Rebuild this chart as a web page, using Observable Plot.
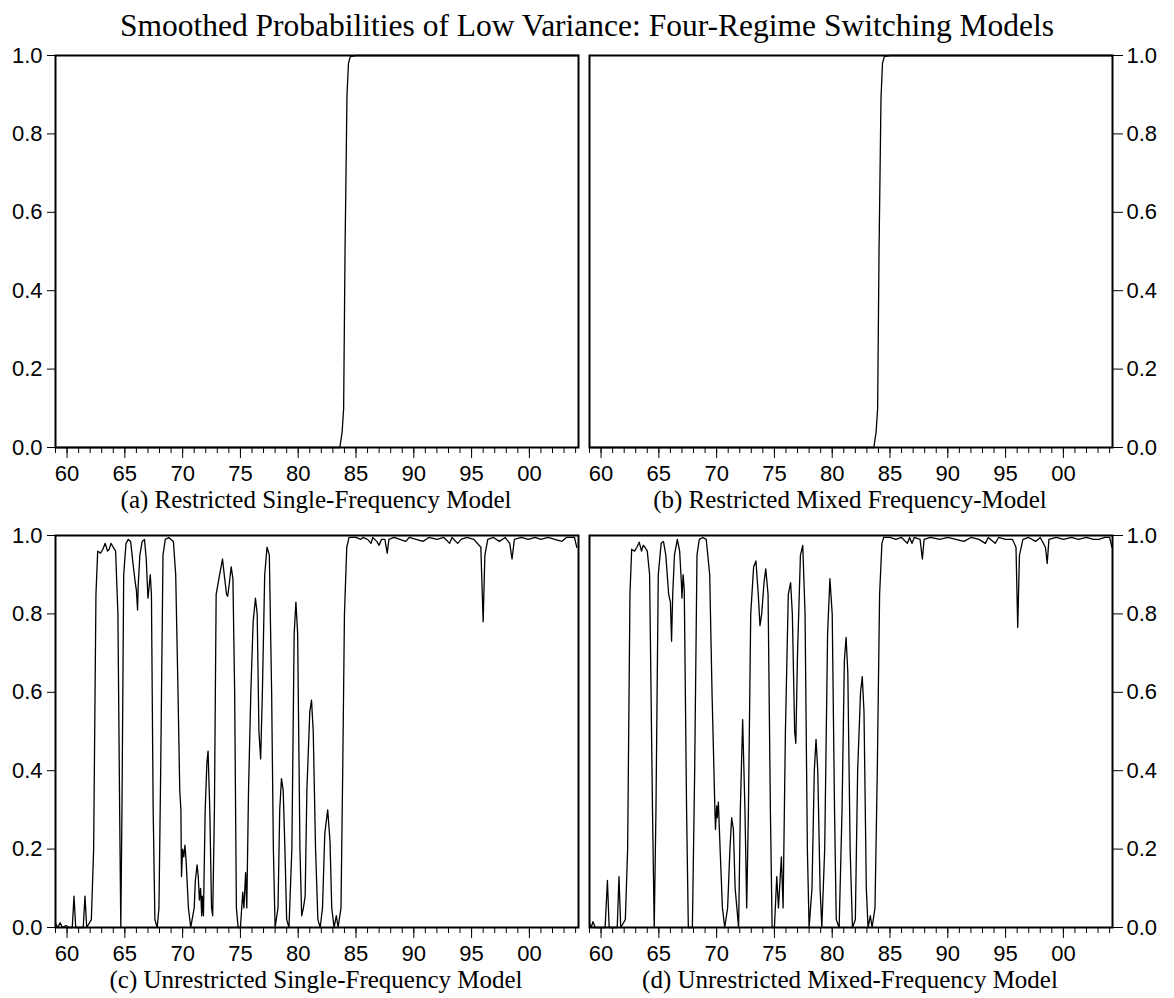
<!DOCTYPE html>
<html><head><meta charset="utf-8">
<script src="https://cdn.jsdelivr.net/npm/d3@7"></script>
<script src="https://cdn.jsdelivr.net/npm/@observablehq/plot@0.6"></script>
<style>
html,body{margin:0;padding:0;background:#fff}
body{width:1174px;height:998px;position:relative;overflow:hidden}
#title{position:absolute;left:0;top:10px;width:1174px;text-align:center;font-family:"Liberation Serif","Times New Roman",serif;font-size:31.5px;line-height:31px;color:#000;white-space:nowrap}
.panel{position:absolute}
.cap{position:absolute;width:600px;text-align:center;font-family:"Liberation Serif","Times New Roman",serif;font-size:25px;line-height:28px;color:#000;white-space:nowrap}
</style></head>
<body>
<div id="title">Smoothed Probabilities of Low Variance: Four-Regime Switching Models</div>
<div id="pa" class="panel" style="left:0;top:45px"></div>
<div id="pb" class="panel" style="left:587px;top:45px"></div>
<div id="pc" class="panel" style="left:0;top:525px"></div>
<div id="pd" class="panel" style="left:587px;top:525px"></div>
<div class="cap" style="left:16px;top:486px">(a) Restricted Single-Frequency Model</div>
<div class="cap" style="left:550px;top:486px">(b) Restricted Mixed Frequency-Model</div>
<div class="cap" style="left:16px;top:966px">(c) Unrestricted Single-Frequency Model</div>
<div class="cap" style="left:550px;top:966px">(d) Unrestricted Mixed-Frequency Model</div>
<script>
// x-axis tick years (labelled every 5 years) and y ticks
const labelYears = [1960, 1965, 1970, 1975, 1980, 1985, 1990, 1995, 2000];
const minorYears = d3.range(1959, 2005);
const yTicks = [0, 0.2, 0.4, 0.6, 0.8, 1.0];

// (a) Restricted single-frequency: [decimal year, probability]
const seriesA = [[1959.0,0],[1983.6,0],[1983.8,0.04],[1983.93,0.1],[1984.05,0.5],[1984.22,0.9],[1984.35,0.98],[1984.5,0.997],[1985.0,1.0],[2004.25,1.0]];
// (b) Restricted mixed-frequency
const seriesB = [[1959.0,0],[1983.6,0],[1983.8,0.04],[1983.93,0.1],[1984.05,0.5],[1984.22,0.89],[1984.35,0.98],[1984.5,0.997],[1985.0,1.0],[2004.25,1.0]];
// (c) Unrestricted single-frequency
const seriesC = [[1959.0,0.01],[1959.2,0.0],[1959.4,0.012],[1959.6,0.0],[1959.9,0.005],[1960.2,0.0],[1960.45,0.0],[1960.6,0.08],[1960.75,0.0],[1961.4,0.0],[1961.55,0.08],[1961.7,0.0],[1962.1,0.02],[1962.3,0.2],[1962.5,0.85],[1962.65,0.96],[1962.9,0.955],[1963.1,0.965],[1963.3,0.98],[1963.5,0.96],[1963.65,0.965],[1963.8,0.98],[1964.0,0.97],[1964.2,0.96],[1964.4,0.8],[1964.55,0.3],[1964.65,0.0],[1964.75,0.3],[1964.9,0.9],[1965.1,0.98],[1965.3,0.99],[1965.5,0.985],[1965.7,0.93],[1965.9,0.88],[1966.0,0.86],[1966.1,0.81],[1966.15,0.87],[1966.3,0.95],[1966.5,0.985],[1966.7,0.99],[1966.85,0.94],[1967.0,0.84],[1967.1,0.87],[1967.2,0.9],[1967.3,0.85],[1967.45,0.3],[1967.6,0.02],[1967.8,0.0],[1967.95,0.05],[1968.1,0.4],[1968.3,0.95],[1968.5,0.99],[1968.8,0.995],[1969.0,0.99],[1969.2,0.985],[1969.4,0.9],[1969.6,0.6],[1969.75,0.35],[1969.85,0.3],[1969.9,0.13],[1970.0,0.2],[1970.1,0.18],[1970.2,0.21],[1970.3,0.17],[1970.5,0.05],[1970.7,0.0],[1971.0,0.05],[1971.1,0.12],[1971.25,0.16],[1971.35,0.13],[1971.45,0.07],[1971.55,0.1],[1971.65,0.03],[1971.7,0.08],[1971.8,0.03],[1971.95,0.3],[1972.1,0.42],[1972.2,0.45],[1972.35,0.3],[1972.5,0.05],[1972.6,0.03],[1972.75,0.3],[1972.9,0.85],[1973.2,0.9],[1973.45,0.94],[1973.6,0.9],[1973.8,0.85],[1973.9,0.845],[1974.05,0.88],[1974.2,0.92],[1974.35,0.89],[1974.5,0.6],[1974.65,0.05],[1974.8,0.0],[1975.0,0.0],[1975.2,0.09],[1975.3,0.05],[1975.45,0.14],[1975.55,0.05],[1975.7,0.35],[1975.9,0.6],[1976.1,0.78],[1976.3,0.84],[1976.45,0.8],[1976.6,0.5],[1976.75,0.43],[1976.9,0.6],[1977.1,0.9],[1977.3,0.97],[1977.5,0.95],[1977.7,0.6],[1977.85,0.2],[1978.0,0.0],[1978.25,0.05],[1978.4,0.3],[1978.55,0.38],[1978.7,0.35],[1978.85,0.2],[1979.0,0.02],[1979.2,0.0],[1979.45,0.2],[1979.65,0.75],[1979.8,0.83],[1979.95,0.75],[1980.15,0.2],[1980.3,0.03],[1980.45,0.05],[1980.6,0.08],[1980.75,0.35],[1981.0,0.55],[1981.15,0.58],[1981.3,0.5],[1981.5,0.2],[1981.7,0.02],[1981.9,0.0],[1982.1,0.05],[1982.3,0.24],[1982.55,0.3],[1982.75,0.22],[1982.9,0.05],[1983.1,0.0],[1983.3,0.03],[1983.45,0.0],[1983.7,0.05],[1983.85,0.4],[1984.0,0.8],[1984.2,0.97],[1984.4,0.995],[1985.0,0.995],[1985.4,0.99],[1985.6,0.995],[1986.0,0.99],[1986.3,0.98],[1986.45,0.995],[1986.8,0.985],[1987.0,0.975],[1987.2,0.99],[1987.5,0.99],[1987.7,0.955],[1987.85,0.99],[1988.3,0.995],[1988.8,0.99],[1989.3,0.985],[1989.6,0.995],[1990.2,0.99],[1990.8,0.985],[1991.3,0.995],[1992.0,0.99],[1992.6,0.995],[1993.1,0.98],[1993.3,0.995],[1993.8,0.98],[1994.1,0.99],[1994.6,0.995],[1995.2,0.99],[1995.8,0.97],[1996.0,0.78],[1996.15,0.95],[1996.4,0.99],[1996.9,0.995],[1997.4,0.985],[1997.9,0.995],[1998.3,0.98],[1998.5,0.94],[1998.7,0.99],[1999.3,0.995],[1999.9,0.99],[2000.5,0.995],[2001.0,0.99],[2001.6,0.995],[2002.2,0.99],[2002.8,0.985],[2003.2,0.995],[2003.9,0.995],[2004.1,0.97]];
// (d) Unrestricted mixed-frequency
const seriesD = [[1959.0,0.01],[1959.15,0.0],[1959.3,0.015],[1959.5,0.0],[1959.8,0.0],[1960.35,0.0],[1960.55,0.12],[1960.7,0.0],[1961.4,0.0],[1961.55,0.13],[1961.7,0.0],[1962.1,0.02],[1962.3,0.2],[1962.5,0.85],[1962.65,0.965],[1962.9,0.96],[1963.1,0.97],[1963.3,0.983],[1963.5,0.96],[1963.65,0.975],[1963.8,0.97],[1964.0,0.96],[1964.2,0.9],[1964.45,0.3],[1964.6,0.0],[1964.75,0.3],[1964.95,0.9],[1965.2,0.98],[1965.4,0.985],[1965.6,0.95],[1965.85,0.85],[1966.0,0.83],[1966.1,0.73],[1966.2,0.85],[1966.35,0.95],[1966.6,0.99],[1966.8,0.96],[1966.95,0.88],[1967.0,0.84],[1967.1,0.9],[1967.2,0.86],[1967.4,0.3],[1967.55,0.0],[1967.9,0.0],[1968.1,0.4],[1968.3,0.95],[1968.5,0.99],[1968.8,0.995],[1969.1,0.99],[1969.4,0.9],[1969.6,0.6],[1969.75,0.42],[1969.85,0.3],[1969.9,0.25],[1970.0,0.31],[1970.05,0.28],[1970.15,0.32],[1970.3,0.2],[1970.5,0.05],[1970.7,0.0],[1970.95,0.05],[1971.15,0.2],[1971.3,0.28],[1971.45,0.25],[1971.6,0.1],[1971.75,0.05],[1971.9,0.0],[1972.05,0.3],[1972.25,0.53],[1972.45,0.3],[1972.6,0.05],[1972.75,0.3],[1972.95,0.8],[1973.2,0.92],[1973.4,0.935],[1973.6,0.85],[1973.75,0.77],[1973.9,0.8],[1974.1,0.88],[1974.25,0.915],[1974.45,0.85],[1974.65,0.3],[1974.8,0.0],[1975.0,0.0],[1975.2,0.13],[1975.35,0.05],[1975.6,0.18],[1975.75,0.05],[1975.95,0.5],[1976.2,0.85],[1976.4,0.88],[1976.55,0.8],[1976.75,0.5],[1976.85,0.47],[1977.0,0.7],[1977.25,0.95],[1977.45,0.975],[1977.65,0.8],[1977.85,0.2],[1978.0,0.0],[1978.25,0.1],[1978.45,0.4],[1978.6,0.48],[1978.75,0.4],[1978.95,0.1],[1979.1,0.0],[1979.35,0.2],[1979.6,0.75],[1979.8,0.89],[1980.0,0.8],[1980.2,0.3],[1980.35,0.02],[1980.6,0.0],[1980.85,0.3],[1981.05,0.68],[1981.2,0.74],[1981.35,0.65],[1981.55,0.2],[1981.75,0.0],[1982.0,0.02],[1982.2,0.4],[1982.45,0.6],[1982.6,0.64],[1982.75,0.55],[1982.95,0.1],[1983.1,0.0],[1983.3,0.03],[1983.45,0.0],[1983.7,0.05],[1983.9,0.4],[1984.1,0.85],[1984.3,0.98],[1984.45,0.995],[1985.0,0.995],[1985.5,0.99],[1986.0,0.995],[1986.5,0.98],[1986.7,0.995],[1986.9,0.98],[1987.1,0.995],[1987.6,0.99],[1987.8,0.94],[1987.95,0.99],[1988.5,0.995],[1989.3,0.99],[1990.0,0.995],[1990.7,0.99],[1991.4,0.985],[1992.0,0.995],[1992.7,0.99],[1993.25,0.98],[1993.5,0.995],[1994.1,0.98],[1994.4,0.995],[1995.0,0.99],[1995.6,0.99],[1995.9,0.97],[1996.05,0.766],[1996.2,0.95],[1996.5,0.99],[1997.0,0.995],[1997.6,0.985],[1998.0,0.995],[1998.45,0.97],[1998.6,0.929],[1998.75,0.99],[1999.4,0.995],[2000.0,0.99],[2000.7,0.995],[2001.3,0.99],[2002.0,0.995],[2002.6,0.99],[2003.05,0.99],[2003.6,0.995],[2004.0,0.995],[2004.2,0.97]];

const xDomain = [1959, 2004.25];

function panel(series, side) {
  const data = series.map(([date, value]) => ({date, value}));
  const left = side === "left";
  return Plot.plot({
    width: 587,
    height: 442,
    marginTop: 10,
    marginBottom: 40,
    marginLeft: left ? 55 : 2,
    marginRight: left ? 9 : 62,
    style: {fontFamily: "'Liberation Sans', Arial, sans-serif", fontSize: "22px", overflow: "visible", color: "#000", background: "transparent"},
    x: {domain: xDomain, label: null},
    y: {domain: [0, 1], label: null},
    marks: [
      Plot.line(data, {x: "date", y: "value", stroke: "#000", strokeWidth: 1.3}),
      Plot.frame({stroke: "#000", strokeWidth: 2}),
      Plot.axisY(yTicks, {anchor: left ? "left" : "right", label: null, tickSize: left ? 8 : 10, tickPadding: left ? 5 : 4, tickFormat: d3.format(".1f"), fontSize: 22}),
      Plot.axisX(minorYears, {anchor: "bottom", label: null, tickSize: 6, tickFormat: () => ""}),
      Plot.axisX(labelYears, {anchor: "bottom", label: null, tickSize: 11, tickPadding: 7, tickFormat: d => String(d % 100).padStart(2, "0"), fontSize: 22})
    ]
  });
}

document.getElementById("pa").append(panel(seriesA, "left"));
document.getElementById("pb").append(panel(seriesB, "right"));
document.getElementById("pc").append(panel(seriesC, "left"));
document.getElementById("pd").append(panel(seriesD, "right"));
</script>
</body></html>
